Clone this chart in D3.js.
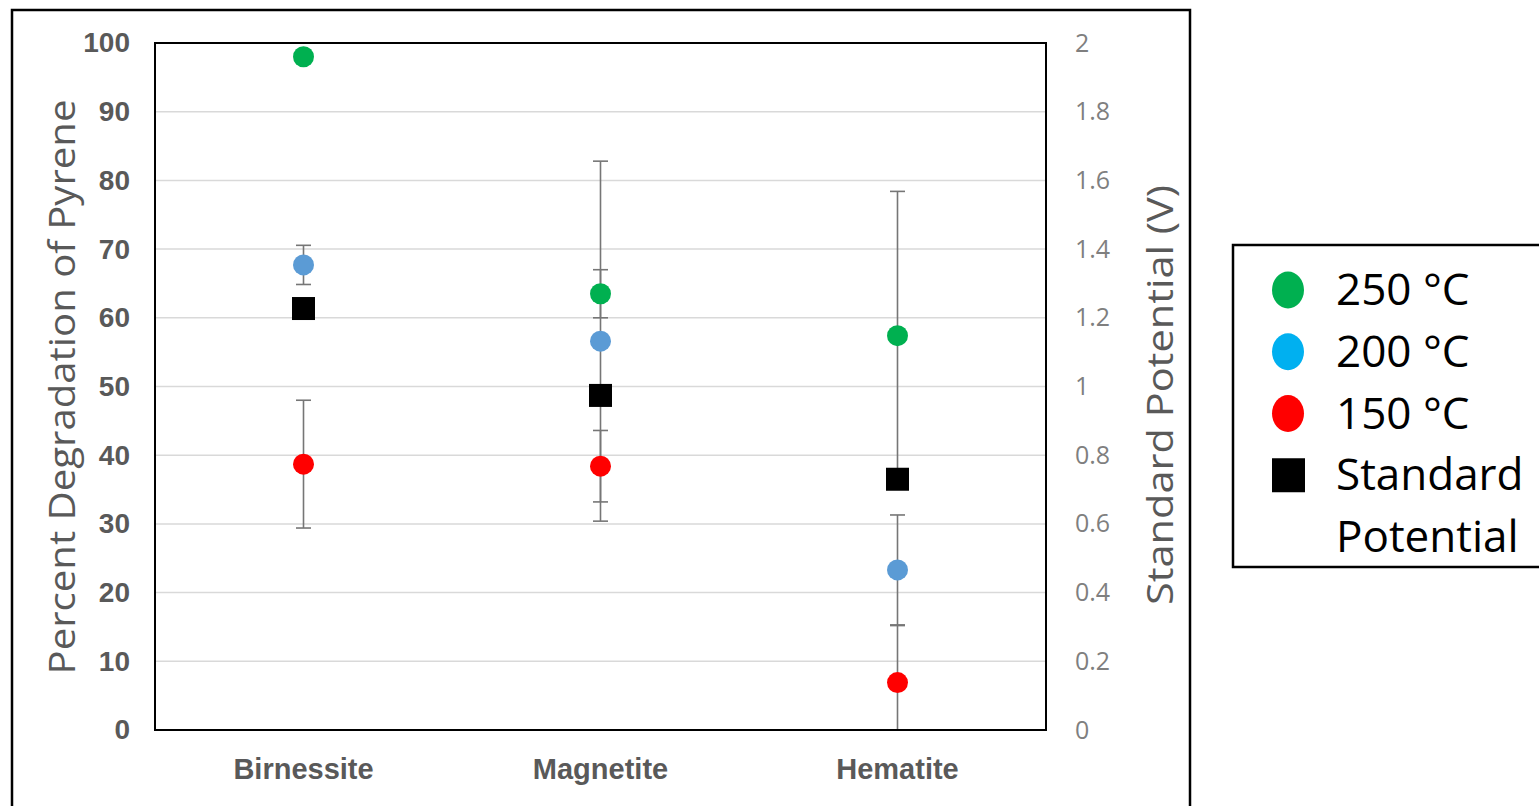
<!DOCTYPE html>
<html>
<head>
<meta charset="utf-8">
<script src="https://cdn.jsdelivr.net/npm/d3@7"></script>
<style>
  body { margin: 0; background: #fff; }
  svg { display: block; }
</style>
</head>
<body>
<div id="chart"></div>
<script>
// categories and values
var categories = ["Birnessite", "Magnetite", "Hematite"];

var deg250 = [98.0, 63.5, 57.4];
var err250 = [0, 3.5, 21.0];
var deg200 = [67.7, 56.6, 23.3];
var err200 = [2.85, 26.2, 8.0];
var deg150 = [38.7, 38.4, 6.9];
var err150 = [9.3, 5.2, 8.3];
var potential = [1.227, 0.974, 0.73];

var leftTicks = [0, 10, 20, 30, 40, 50, 60, 70, 80, 90, 100];
var rightTicks = [0, 0.2, 0.4, 0.6, 0.8, 1, 1.2, 1.4, 1.6, 1.8, 2];

var legendLabels = ["250 °C", "200 °C", "150 °C"];
var legendColours = ["#00b050", "#00b0f0", "#ff0000"];

var W = 1539, H = 806;
var plot = {left: 155, right: 1046, top: 43, bottom: 730};

var svg = d3.select("#chart").append("svg")
    .attr("width", W)
    .attr("height", H);

// outer frame (bottom edge is cut off in the original)
svg.append("rect")
    .attr("x", 12).attr("y", 10)
    .attr("width", 1178).attr("height", 820)
    .attr("fill", "none")
    .attr("stroke", "black")
    .attr("stroke-width", 2.5);

//Scales
var x = d3.scaleBand()
    .domain(categories)
    .range([plot.left, plot.right]);

var yL = d3.scaleLinear()
    .domain([0, 100])
    .range([plot.bottom, plot.top]);

var yR = d3.scaleLinear()
    .domain([0, 2])
    .range([plot.bottom, plot.top]);

//Gridlines
svg.append("g").selectAll("line")
    .data(leftTicks.slice(1, -1))
    .join("line")
    .attr("x1", plot.left).attr("x2", plot.right)
    .attr("y1", function(d) { return yL(d); })
    .attr("y2", function(d) { return yL(d); })
    .attr("stroke", "#d9d9d9")
    .attr("stroke-width", 1.5);

//Left axis labels
var axL = svg.append("g")
    .attr("transform", "translate(130,0)")
    .call(d3.axisLeft(yL).tickValues(leftTicks).tickSize(0).tickPadding(0).tickFormat(d3.format("d")));
axL.select(".domain").remove();
axL.selectAll("text")
    .attr("font-family", "'Liberation Sans', Arial, sans-serif")
    .attr("font-weight", "bold")
    .attr("font-size", 28)
    .attr("fill", "#595959");

//Right axis labels
var axR = svg.append("g")
    .attr("transform", "translate(1075,0)")
    .call(d3.axisRight(yR).tickValues(rightTicks).tickSize(0).tickPadding(0).tickFormat(function(d) { return String(+d.toFixed(1)); }));
axR.select(".domain").remove();
axR.selectAll("text")
    .attr("font-family", "'Open Sans', sans-serif")
    .attr("font-size", 25)
    .attr("fill", "#7f7f7f");

//Category labels
svg.append("g").selectAll("text")
    .data(categories)
    .join("text")
    .attr("x", function(d) { return x(d) + x.bandwidth() / 2; })
    .attr("y", 779)
    .attr("text-anchor", "middle")
    .attr("font-family", "'Liberation Sans', Arial, sans-serif")
    .attr("font-weight", "bold")
    .attr("font-size", 29)
    .attr("fill", "#595959")
    .text(function(d) { return d; });

//Axis titles
svg.append("text")
    .attr("transform", "translate(75,387) rotate(-90)")
    .attr("text-anchor", "middle")
    .attr("font-family", "'Open Sans', sans-serif")
    .attr("font-size", 36)
    .attr("fill", "#595959")
    .attr("textLength", 575)
    .attr("lengthAdjust", "spacingAndGlyphs")
    .text("Percent Degradation of Pyrene");

svg.append("text")
    .attr("transform", "translate(1173,395) rotate(-90)")
    .attr("text-anchor", "middle")
    .attr("font-family", "'Open Sans', sans-serif")
    .attr("font-size", 36)
    .attr("fill", "#595959")
    .attr("textLength", 420)
    .attr("lengthAdjust", "spacingAndGlyphs")
    .text("Standard Potential (V)");

//Error bars, clipped to the plot area
svg.append("clipPath").attr("id", "plotclip")
    .append("rect")
    .attr("x", plot.left).attr("y", plot.top)
    .attr("width", plot.right - plot.left).attr("height", plot.bottom - plot.top);

var series = [
    {vals: deg250, errs: err250, colour: "#00b050"},
    {vals: deg200, errs: err200, colour: "#5b9bd5"},
    {vals: deg150, errs: err150, colour: "#ff0000"}
];

var gErr = svg.append("g").attr("clip-path", "url(#plotclip)");
series.forEach(function(s) {
    categories.forEach(function(c, i) {
        var e = s.errs[i];
        if (e <= 0) return;
        var cx = x(c) + x.bandwidth() / 2;
        var top = yL(s.vals[i] + e), bot = yL(s.vals[i] - e);
        gErr.append("line")
            .attr("x1", cx).attr("x2", cx)
            .attr("y1", top).attr("y2", bot)
            .attr("stroke", "#767676").attr("stroke-width", 1.6);
        [top, bot].forEach(function(yy) {
            gErr.append("line")
                .attr("x1", cx - 7.5).attr("x2", cx + 7.5)
                .attr("y1", yy).attr("y2", yy)
                .attr("stroke", "#767676").attr("stroke-width", 1.6);
        });
    });
});

//Plot frame
svg.append("rect")
    .attr("x", plot.left).attr("y", plot.top)
    .attr("width", plot.right - plot.left).attr("height", plot.bottom - plot.top)
    .attr("fill", "none")
    .attr("stroke", "black")
    .attr("stroke-width", 2);

//Standard potential squares
svg.append("g").selectAll("rect")
    .data(potential)
    .join("rect")
    .attr("x", function(d, i) { return x(categories[i]) + x.bandwidth() / 2 - 11.5; })
    .attr("y", function(d) { return yR(d) - 11.5; })
    .attr("width", 23).attr("height", 23)
    .attr("fill", "black");

//Degradation points
series.forEach(function(s) {
    svg.append("g").selectAll("circle")
        .data(s.vals)
        .join("circle")
        .attr("cx", function(d, i) { return x(categories[i]) + x.bandwidth() / 2; })
        .attr("cy", function(d) { return yL(d); })
        .attr("r", 10.5)
        .attr("fill", s.colour);
});

//Legend
var lg = svg.append("g");
lg.append("rect")
    .attr("x", 1233).attr("y", 245)
    .attr("width", 320).attr("height", 322)
    .attr("fill", "white")
    .attr("stroke", "black")
    .attr("stroke-width", 2.5);

var rowY = d3.scaleLinear().domain([0, 4]).range([290, 537]);

lg.selectAll("ellipse")
    .data(legendColours)
    .join("ellipse")
    .attr("cx", 1288)
    .attr("cy", function(d, i) { return rowY(i); })
    .attr("rx", 16).attr("ry", 18.5)
    .attr("fill", function(d) { return d; });

lg.append("rect")
    .attr("x", 1272).attr("y", rowY(3) - 17)
    .attr("width", 33).attr("height", 34)
    .attr("fill", "black");

var legendText = legendLabels.concat(["Standard", "Potential"]);
lg.selectAll("text")
    .data(legendText)
    .join("text")
    .attr("x", 1336)
    .attr("y", function(d, i) { return rowY(i) + 15; })
    .attr("font-family", "'Open Sans', sans-serif")
    .attr("font-size", 44)
    .attr("fill", "black")
    .text(function(d) { return d; });
</script>
</body>
</html>
